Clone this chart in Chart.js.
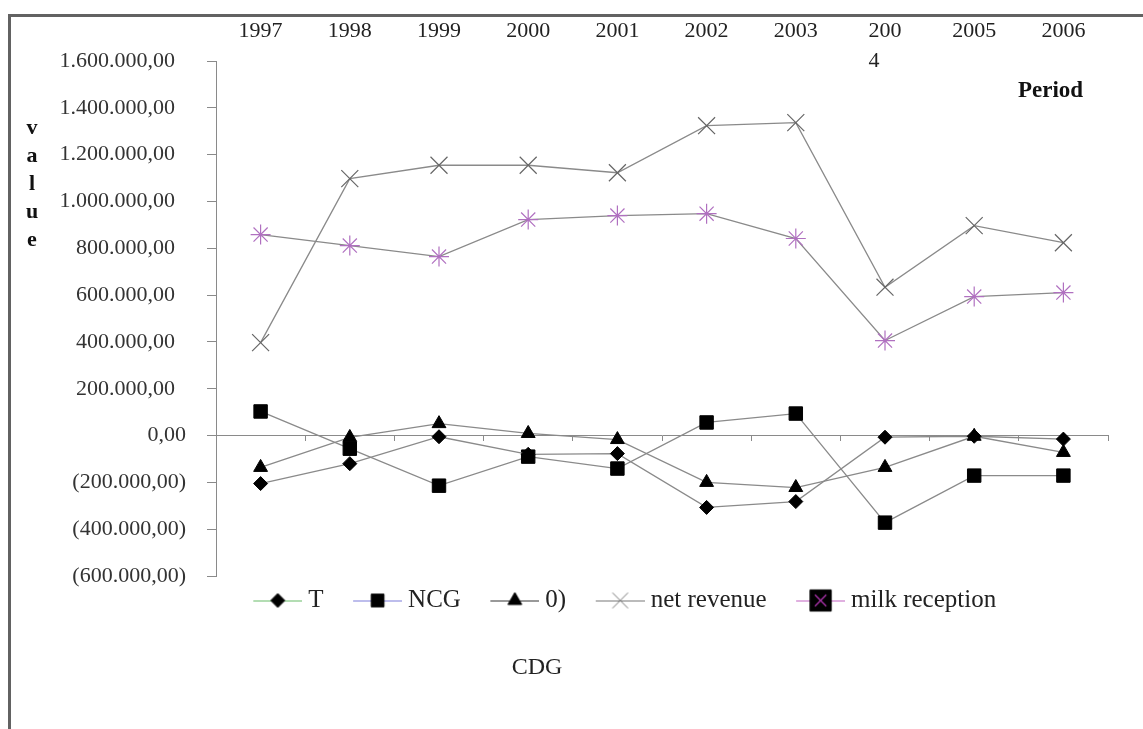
<!DOCTYPE html>
<html>
<head>
<meta charset="utf-8">
<script src="https://cdn.jsdelivr.net/npm/chart.js@4.4.1/dist/chart.umd.min.js"></script>
<style>
  html, body { margin: 0; padding: 0; background: #fff; }
  #wrap { position: relative; width: 1143px; height: 729px; overflow: hidden; }
  #wrap canvas { position: absolute; left: 0; top: 0; }
  #frame { position: absolute; left: 8px; top: 14px; right: 0; bottom: 0;
           border-top: 3px solid #626262; border-left: 3px solid #626262; pointer-events: none; }
</style>
</head>
<body>
<div id="wrap">
  <canvas id="chart" width="1143" height="729"></canvas>
  <div id="frame"></div>
</div>
<script>
// data
const years = ['1997', '1998', '1999', '2000', '2001', '2002', '2003', '2004', '2005', '2006'];
const seriesNames = ['T', 'NCG', '0)', 'net revenue', 'milk reception'];
const tValues = [-205000, -120000, -5000, -80000, -77000, -307000, -282000, -7000, -3000, -15000];
const ncgValues = [103000, -56000, -214000, -90000, -141000, 56000, 94000, -372000, -171000, -171000];
const zeroValues = [-136000, -8000, 51000, 9000, -17000, -200000, -222000, -136000, -3000, -72000];
const netRevenue = [397000, 1098000, 1155000, 1155000, 1123000, 1324000, 1337000, 634000, 897000, 824000];
const milkReception = [859000, 812000, 765000, 923000, 940000, 948000, 842000, 406000, 594000, 611000];
const yMin = -600000;
const yMax = 1600000;
const yStep = 200000;
const yTitle = 'value';
const xTitle = 'Period';
const caption = 'CDG';

const SERIF = '"Liberation Serif", "Times New Roman", serif';
const LINE = '#8a8a8a';

// excel style accounting numbers: 1.400.000,00 / (200.000,00)
function accounting(v) {
  if (v === 0) return '0,00';
  const intPart = String(Math.abs(Math.round(v))).replace(/\B(?=(\d{3})+(?!\d))/g, '.');
  const s = intPart + ',00';
  return v < 0 ? '(' + s + ')' : s + '\u2007';
}

// legend icons: short coloured line with the series marker, drawn with chart.js helpers
function legendIcon(lineColor, marker) {
  const c = document.createElement('canvas');
  c.width = 73; c.height = 26;
  const g = c.getContext('2d');
  g.strokeStyle = lineColor; g.lineWidth = 1;
  g.beginPath(); g.moveTo(24, 13.5); g.lineTo(73, 13.5); g.stroke();
  marker.forEach(m => {
    g.fillStyle = m.fill; g.strokeStyle = m.stroke; g.lineWidth = m.width || 1;
    Chart.helpers.drawPoint(g, {pointStyle: m.style, radius: m.radius, rotation: 0, borderWidth: m.width || 1}, 48.5, 13);
  });
  return c;
}

const icons = [
  legendIcon('#66bb66', [{style: 'rectRot', radius: 7, fill: '#000', stroke: '#000'}]),
  legendIcon('#7a7ad8', [{style: 'rect', radius: 9, fill: '#000', stroke: '#000'}]),
  legendIcon('#333333', [{style: 'triangle', radius: 8, fill: '#000', stroke: '#000'}]),
  legendIcon('#777777', [{style: 'crossRot', radius: 11, fill: '#777', stroke: '#777'}]),
  legendIcon('#c060c0', [{style: 'rect', radius: 15, fill: '#000', stroke: '#000'},
                         {style: 'crossRot', radius: 8, fill: '#a030a0', stroke: '#a030a0', width: 1.5}])
];

// tick labels overhang their axis boxes here (wrapped 2004, wide y labels), so drop the label clip
const unclip = {
  id: 'unclip',
  afterLayout(chart) {
    chart.scales.x._computeLabelArea = () => undefined;
    chart.scales.y._computeLabelArea = () => undefined;
  }
};

const annotations = {
  id: 'annotations',
  afterDraw(chart) {
    const ctx = chart.ctx;
    ctx.save();
    ctx.fillStyle = '#111';
    ctx.font = 'bold 22px ' + SERIF;
    ctx.textAlign = 'center';
    yTitle.split('').forEach((ch, i) => ctx.fillText(ch, 32, 128 + 28 * i));
    ctx.font = 'bold 23px ' + SERIF;
    ctx.textAlign = 'left';
    ctx.fillText(xTitle, 1018, 91);
    ctx.font = '24px ' + SERIF;
    ctx.textAlign = 'center';
    ctx.fillStyle = '#222';
    ctx.fillText(caption, 537, 668);
    ctx.restore();
  }
};

function series(label, data, style, radius, fill, stroke, bw) {
  return {
    label: label,
    data: data,
    borderColor: LINE,
    borderWidth: 1.3,
    tension: 0,
    fill: false,
    pointStyle: style,
    pointRadius: radius,
    pointHoverRadius: radius,
    pointBackgroundColor: fill,
    pointBorderColor: stroke,
    pointBorderWidth: bw
  };
}

new Chart(document.getElementById('chart').getContext('2d'), {
  type: 'line',
  plugins: [unclip, annotations],
  data: {
    labels: years,
    datasets: [
      series(seriesNames[0], tValues, 'rectRot', 7, '#000', '#000', 1),
      series(seriesNames[1], ncgValues, 'rect', 9.5, '#000', '#000', 1),
      series(seriesNames[2], zeroValues, 'triangle', 8, '#000', '#000', 1),
      series(seriesNames[3], netRevenue, 'crossRot', 12, '#666', '#666', 1.2),
      series(seriesNames[4], milkReception, 'star', 10, '#b070c0', '#b070c0', 1.2)
    ]
  },
  options: {
    responsive: false,
    animation: false,
    layout: { padding: { top: 38.7, left: 124, right: 35, bottom: 106 } },
    plugins: {
      tooltip: { enabled: false },
      legend: {
        position: 'bottom',
        labels: {
          usePointStyle: true,
          pointStyleWidth: 60,
          padding: 12,
          color: '#222',
          font: { family: SERIF, size: 25 },
          generateLabels: (chart) => chart.data.datasets.map((ds, i) => ({
            text: ds.label,
            pointStyle: icons[i],
            fillStyle: 'transparent',
            strokeStyle: 'transparent',
            lineWidth: 0,
            hidden: false,
            datasetIndex: i,
            fontColor: '#222'
          }))
        }
      }
    },
    scales: {
      x: {
        type: 'category',
        position: 'top',
        offset: true,
        grid: { display: false },
        border: { display: false },
        ticks: {
          color: '#222',
          maxRotation: 0,
          autoSkip: false,
          crossAlign: 'far',
          padding: -22.5,
          font: { family: SERIF, size: 22, lineHeight: 1.35 },
          callback: function (value) {
            const lab = this.getLabelForValue(value);
            // the reference wraps 2004 over two lines
            return lab === '2004' ? ['200', '4\u2002\u2002'] : lab;
          }
        }
      },
      x2: {
        type: 'category',
        axis: 'x',
        position: { y: 0 },
        offset: true,
        grid: { offset: true, drawOnChartArea: false, drawTicks: true, tickLength: 5, color: LINE },
        border: { display: true, color: LINE, width: 1 },
        ticks: { display: false }
      },
      y: {
        position: 'left',
        min: yMin,
        max: yMax,
        afterFit: (scale) => { scale.width = 92; },
        grid: { drawOnChartArea: false, drawTicks: true, tickLength: 9, color: LINE },
        border: { display: true, color: LINE, width: 1 },
        ticks: {
          stepSize: yStep,
          padding: 21,
          color: '#333',
          font: { family: SERIF, size: 22 },
          callback: (v) => accounting(v)
        }
      }
    }
  }
});
</script>
</body>
</html>
